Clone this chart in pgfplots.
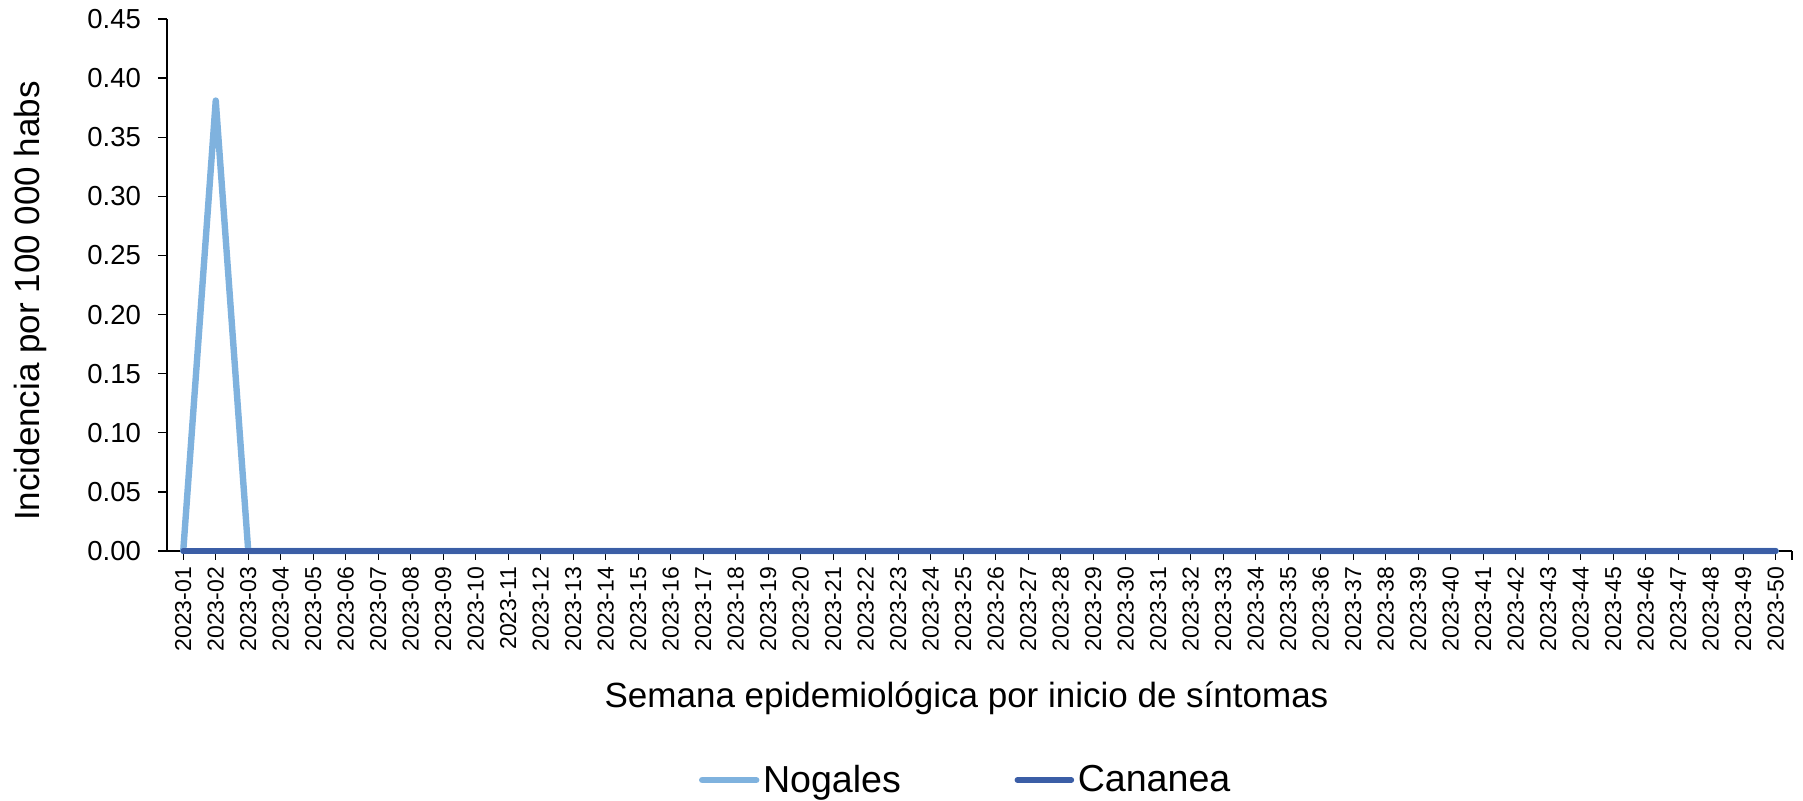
\documentclass[border=0pt]{standalone}
\usepackage{fontspec}
\setmainfont{Liberation Sans}
\usepackage{pgfplots}
\pgfplotsset{compat=1.18}
\definecolor{nog}{RGB}{127,178,222}
\definecolor{can}{RGB}{59,94,166}
\begin{document}
\begin{tikzpicture}
\begin{axis}[
  at={(0,0)}, anchor=south west,
  width=812.5pt, height=266pt, scale only axis,
  xmin=0.5, xmax=50.5, ymin=0, ymax=0.45,
  axis x line*=bottom, axis y line*=left,
  axis line style={-, black, line width=0.7pt},
  tick align=outside,
  major tick length=4.5pt,
  tick style={black, line width=0.7pt},
  xtick={1,...,50},
  extra x ticks={50.5}, extra x tick labels={},
  xticklabels={2023-01,2023-02,2023-03,2023-04,2023-05,2023-06,2023-07,2023-08,2023-09,2023-10,2023-11,2023-12,2023-13,2023-14,2023-15,2023-16,2023-17,2023-18,2023-19,2023-20,2023-21,2023-22,2023-23,2023-24,2023-25,2023-26,2023-27,2023-28,2023-29,2023-30,2023-31,2023-32,2023-33,2023-34,2023-35,2023-36,2023-37,2023-38,2023-39,2023-40,2023-41,2023-42,2023-43,2023-44,2023-45,2023-46,2023-47,2023-48,2023-49,2023-50},
  xticklabel style={rotate=90, anchor=east, font=\fontsize{11.5}{12}\selectfont},
  ytick={0,0.05,0.10,0.15,0.20,0.25,0.30,0.35,0.40,0.45},
  yticklabel style={xshift=-5pt, font=\fontsize{13.75}{15}\selectfont, /pgf/number format/fixed, /pgf/number format/fixed zerofill, /pgf/number format/precision=2, /pgf/number format/assume math mode=true},
  scaled y ticks=false,
  xlabel={Semana epidemiológica por inicio de síntomas},
  xlabel style={at={(axis description cs:0.492,-0.2763)}, anchor=center, font=\fontsize{17.5}{19}\selectfont},
  ylabel={Incidencia por 100 000 habs},
  ylabel style={at={(axis description cs:-0.0843,0.47)}, anchor=center, font=\fontsize{17.5}{19}\selectfont},
  legend style={at={(axis description cs:0.492,-0.4305)}, anchor=center, draw=none, legend columns=2, font=\fontsize{18.8}{20}\selectfont, /tikz/every even column/.append style={column sep=55pt}, nodes={inner sep=1.8pt}},
  legend image code/.code={\draw[#1, line cap=round] (0pt,0pt) -- (27pt,0pt);},
  clip=false,
]
\addplot[color=nog, line width=3.2pt, line join=round, line cap=round] coordinates {
(1,0) (2,0.381) (3,0) (4,0) (5,0) (6,0) (7,0) (8,0) (9,0) (10,0)
(11,0) (12,0) (13,0) (14,0) (15,0) (16,0) (17,0) (18,0) (19,0) (20,0)
(21,0) (22,0) (23,0) (24,0) (25,0) (26,0) (27,0) (28,0) (29,0) (30,0)
(31,0) (32,0) (33,0) (34,0) (35,0) (36,0) (37,0) (38,0) (39,0) (40,0)
(41,0) (42,0) (43,0) (44,0) (45,0) (46,0) (47,0) (48,0) (49,0) (50,0)
};
\addlegendentry{Nogales}
\addplot[color=can, line width=2.8pt, line join=round, line cap=round] coordinates {
(1,0) (2,0) (3,0) (4,0) (5,0) (6,0) (7,0) (8,0) (9,0) (10,0)
(11,0) (12,0) (13,0) (14,0) (15,0) (16,0) (17,0) (18,0) (19,0) (20,0)
(21,0) (22,0) (23,0) (24,0) (25,0) (26,0) (27,0) (28,0) (29,0) (30,0)
(31,0) (32,0) (33,0) (34,0) (35,0) (36,0) (37,0) (38,0) (39,0) (40,0)
(41,0) (42,0) (43,0) (44,0) (45,0) (46,0) (47,0) (48,0) (49,0) (50,0)
};
\addlegendentry{Cananea}
\end{axis}
\pgfresetboundingbox
\path[use as bounding box] (-83.5pt,-125pt) rectangle (818pt,275.5pt);
\end{tikzpicture}
\end{document}
